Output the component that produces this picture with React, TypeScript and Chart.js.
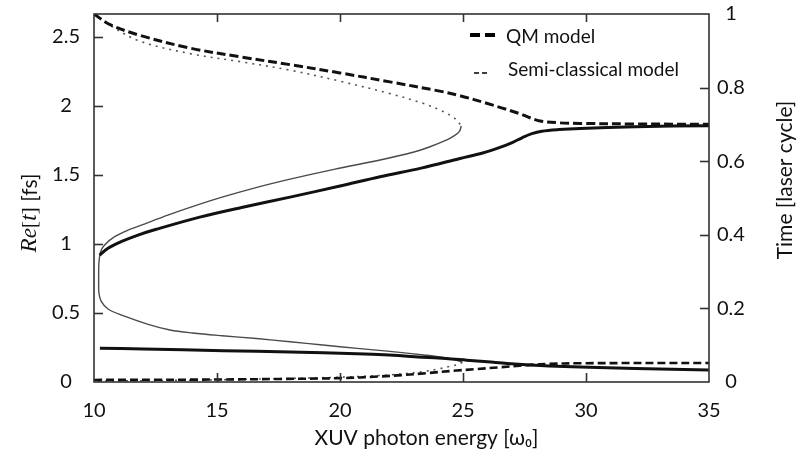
import React, { useEffect, useRef } from 'react';
import { Chart, registerables } from 'chart.js';

Chart.register(...registerables);

// ---------- axes ----------
const xMin = 10;
const xMax = 35;
const leftMax = 2.667; // one laser cycle in fs
const rightMax = 1;
const xTickValues = [10, 15, 20, 25, 30, 35];
const leftTickValues = [0, 0.5, 1, 1.5, 2, 2.5];
const rightTickValues = [0, 0.2, 0.4, 0.6, 0.8, 1];

// ---------- QM model (thick) ----------
const qmTopX = [10.0, 10.65, 11.87, 13.9, 16.0, 17.97, 20.0, 22.03, 24.0, 24.88, 25.96, 26.6, 27.3, 27.72, 28.13, 28.94, 29.76, 32.0, 35.0];
const qmTopY = [2.667, 2.59, 2.512, 2.42, 2.355, 2.3, 2.24, 2.175, 2.11, 2.075, 2.02, 1.985, 1.945, 1.915, 1.892, 1.878, 1.874, 1.87, 1.868];

const qmRiseX = [10.23, 10.57, 11.1, 11.79, 12.5, 14.3, 16.0, 17.97, 20.0, 21.63, 23.3, 24.88, 25.8, 26.5, 27.0, 27.4, 27.8, 28.2, 28.9, 29.76, 32.0, 35.0];
const qmRiseY = [0.92, 0.97, 1.017, 1.065, 1.105, 1.195, 1.265, 1.34, 1.42, 1.488, 1.55, 1.62, 1.66, 1.7, 1.735, 1.77, 1.8, 1.818, 1.83, 1.838, 1.85, 1.858];

const qmBottomX = [10.24, 12.0, 15.26, 17.97, 20.68, 22.0, 23.37, 24.3, 25.15, 26.0, 26.8, 27.72, 28.5, 29.76, 32.0, 35.0];
const qmBottomY = [0.245, 0.24, 0.227, 0.218, 0.205, 0.195, 0.18, 0.17, 0.158, 0.146, 0.134, 0.123, 0.116, 0.109, 0.098, 0.087];

const qmLowX = [10.0, 12.5, 15.0, 17.5, 20.0, 21.6, 22.5, 23.5, 24.74, 25.5, 26.5, 27.3, 27.72, 28.5, 29.76, 35.0];
const qmLowY = [0.015, 0.016, 0.018, 0.022, 0.028, 0.04, 0.05, 0.064, 0.083, 0.093, 0.107, 0.118, 0.124, 0.131, 0.136, 0.138];

// ---------- semi-classical model (thin) ----------
const scTopX = [10.0, 10.65, 11.87, 13.9, 16.0, 17.97, 20.0, 22.03, 23.37, 24.07, 24.6, 24.8, 24.93];
const scTopY = [2.667, 2.585, 2.47, 2.38, 2.32, 2.26, 2.18, 2.09, 2.02, 1.97, 1.92, 1.886, 1.855];

const scMidX = [24.93, 24.85, 24.6, 24.34, 23.66, 22.97, 21.63, 19.8, 17.97, 16.4, 14.84, 13.0, 12.2, 11.38, 10.84, 10.43, 10.27, 10.2, 10.19, 10.2, 10.3, 10.57, 11.1, 12.2, 13.09, 14.0, 15.2, 16.6, 17.97, 19.3, 20.7, 22.03, 23.4, 24.2, 24.74, 24.97];
const scMidY = [1.855, 1.815, 1.78, 1.754, 1.705, 1.665, 1.609, 1.543, 1.47, 1.4, 1.32, 1.21, 1.155, 1.1, 1.053, 0.993, 0.944, 0.862, 0.739, 0.645, 0.582, 0.529, 0.486, 0.418, 0.377, 0.355, 0.335, 0.315, 0.292, 0.268, 0.244, 0.222, 0.196, 0.178, 0.158, 0.145];

const scLowX = [24.97, 24.85, 24.47, 24.07, 23.37, 22.03, 20.68, 18.0, 15.0, 12.5, 10.0];
const scLowY = [0.145, 0.13, 0.113, 0.097, 0.075, 0.052, 0.039, 0.026, 0.016, 0.01, 0.006];

// ---------- text ----------
const legendLabels = ['QM model', 'Semi-classical model'];
const xTitle = 'XUV photon energy [ω₀]';
const rightTitle = 'Time [laser cycle]';

const FONT = 'Lato, "Open Sans", sans-serif';

const toPoints = (xs: number[], ys: number[]) => xs.map((x, i) => ({ x, y: ys[i] }));

const decorPlugin = {
  id: 'decor',
  afterDraw(chart: any) {
    const { ctx, chartArea: a } = chart;
    ctx.save();
    const seg = (x1: number, y1: number, x2: number, y2: number) => {
      ctx.beginPath();
      ctx.moveTo(x1, y1);
      ctx.lineTo(x2, y2);
      ctx.stroke();
    };
    const w = a.right - a.left;
    const h = a.bottom - a.top;
    const px = (v: number) => a.left + ((v - xMin) / (xMax - xMin)) * w;
    const pyL = (v: number) => a.bottom - (v / leftMax) * h;
    const pyR = (v: number) => a.bottom - (v / rightMax) * h;
    ctx.setLineDash([]);
    ctx.strokeStyle = '#333333';
    ctx.lineWidth = 1.6;
    xTickValues.forEach((v) => {
      if (v <= xMin || v >= xMax) return;
      const p = Math.round(px(v)) + 0.5;
      seg(p, a.bottom, p, a.bottom - 9);
      seg(p, a.top, p, a.top + 8);
    });
    leftTickValues.forEach((v) => {
      if (v <= 0 || v >= leftMax) return;
      const p = Math.round(pyL(v)) + 0.5;
      seg(a.left, p, a.left + 9, p);
    });
    rightTickValues.forEach((v) => {
      if (v <= 0 || v >= rightMax) return;
      const p = Math.round(pyR(v)) + 0.5;
      seg(a.right, p, a.right - 9, p);
    });
    ctx.strokeRect(a.left, a.top, w, h);

    // legend
    const lx = a.right - 239;
    ctx.strokeStyle = '#000';
    ctx.lineWidth = 4;
    ctx.setLineDash([10, 5]);
    seg(lx, a.top + 21, lx + 25, a.top + 21);
    ctx.lineWidth = 1.5;
    ctx.setLineDash([5, 3]);
    seg(lx + 4, a.top + 59, lx + 17, a.top + 59);
    ctx.setLineDash([]);
    ctx.fillStyle = '#111';
    ctx.textBaseline = 'middle';
    ctx.textAlign = 'left';
    ctx.font = `19px ${FONT}`;
    ctx.fillText(legendLabels[0], lx + 36, a.top + 23);
    ctx.fillText(legendLabels[1], lx + 38, a.top + 56);

    // x title
    ctx.textAlign = 'center';
    ctx.font = `21px ${FONT}`;
    ctx.fillText(xTitle, (a.left + a.right) / 2 + 25, a.bottom + 56);

    // right title
    ctx.save();
    ctx.translate(a.right + 76, a.top + 166);
    ctx.rotate(-Math.PI / 2);
    ctx.fillText(rightTitle, 0, 0);
    ctx.restore();

    // left title with math italics
    const parts = [
      { t: 'Re', f: `italic 23px "Liberation Serif", serif` },
      { t: '[', f: `22px "Liberation Serif", serif` },
      { t: 't', f: `italic 23px "Liberation Serif", serif` },
      { t: ']', f: `22px "Liberation Serif", serif` },
      { t: ' [fs]', f: `21px ${FONT}` },
    ];
    let total = 0;
    const widths = parts.map((p) => {
      ctx.font = p.f;
      const tw = ctx.measureText(p.t).width;
      total += tw;
      return tw;
    });
    ctx.save();
    ctx.translate(a.left - 64, a.top + 199);
    ctx.rotate(-Math.PI / 2);
    ctx.textAlign = 'left';
    let cx = -total / 2;
    parts.forEach((p, i) => {
      ctx.font = p.f;
      ctx.fillText(p.t, cx, 0);
      cx += widths[i];
    });
    ctx.restore();

    ctx.restore();
  },
};

export default function App() {
  const ref = useRef<HTMLCanvasElement>(null);
  useEffect(() => {
    const thick = { borderColor: '#111', borderWidth: 3 };
    const thin = { borderColor: '#4a4a4a', borderWidth: 1.4 };
    const chart = new Chart(ref.current as HTMLCanvasElement, {
      type: 'line',
      data: {
        datasets: [
          { label: 'QM top', data: toPoints(qmTopX, qmTopY), ...thick, borderDash: [9, 4] },
          { label: 'QM rise', data: toPoints(qmRiseX, qmRiseY), ...thick },
          { label: 'QM bottom', data: toPoints(qmBottomX, qmBottomY), ...thick },
          { label: 'QM low', data: toPoints(qmLowX, qmLowY), ...thick, borderWidth: 2.6, borderDash: [8, 4] },
          { label: 'SC top', data: toPoints(scTopX, scTopY), borderColor: '#555', borderWidth: 1.6, borderDash: [2, 5] },
          { label: 'SC mid', data: toPoints(scMidX, scMidY), ...thin },
          { label: 'SC low', data: toPoints(scLowX, scLowY), borderColor: '#555', borderWidth: 1.6, borderDash: [2, 5] },
        ].map((d) => ({ ...d, pointRadius: 0, fill: false, tension: 0.35, yAxisID: 'y' })) as any,
      },
      options: {
        animation: false,
        responsive: false,
        maintainAspectRatio: false,
        layout: { padding: { top: 14, left: 0, right: 0, bottom: 0 } },
        plugins: { legend: { display: false }, tooltip: { enabled: false } },
        scales: {
          x: {
            type: 'linear',
            min: xMin,
            max: xMax,
            afterBuildTicks: (s: any) => {
              s.ticks = xTickValues.map((v) => ({ value: v }));
            },
            afterFit: (s: any) => {
              s.height = 77;
              s.paddingLeft = 0;
              s.paddingRight = 0;
            },
            grid: { display: false, drawTicks: false },
            border: { display: false },
            ticks: {
              autoSkip: false,
              maxRotation: 0,
              padding: 17,
              color: '#111',
              font: { family: FONT, size: 20 },
              callback: (v: any) => String(v),
            },
          },
          y: {
            type: 'linear',
            position: 'left',
            min: 0,
            max: leftMax,
            afterBuildTicks: (s: any) => {
              s.ticks = leftTickValues.map((v) => ({ value: v }));
            },
            afterFit: (s: any) => {
              s.width = 94;
              s.paddingTop = 0;
              s.paddingBottom = 0;
            },
            grid: { display: false, drawTicks: false },
            border: { display: false },
            ticks: {
              crossAlign: 'center',
              padding: 14,
              color: '#111',
              font: { family: FONT, size: 20 },
              callback: (v: any) => String(v),
            },
          },
          y2: {
            type: 'linear',
            position: 'right',
            min: 0,
            max: rightMax,
            afterBuildTicks: (s: any) => {
              s.ticks = rightTickValues.map((v) => ({ value: v }));
            },
            afterFit: (s: any) => {
              s.width = 91;
              s.paddingTop = 0;
              s.paddingBottom = 0;
            },
            grid: { display: false, drawTicks: false },
            border: { display: false },
            ticks: {
              crossAlign: 'center',
              padding: 8,
              color: '#111',
              font: { family: FONT, size: 20 },
              callback: (v: any) => String(v),
            },
          },
        },
      } as any,
      plugins: [decorPlugin],
    });
    return () => chart.destroy();
  }, []);
  return (
    <div style={{ position: 'absolute', left: 0, top: 0, width: 800, height: 459, background: '#fff' }}>
      <canvas ref={ref} width={800} height={459} style={{ display: 'block', width: 800, height: 459 }} />
    </div>
  );
}
